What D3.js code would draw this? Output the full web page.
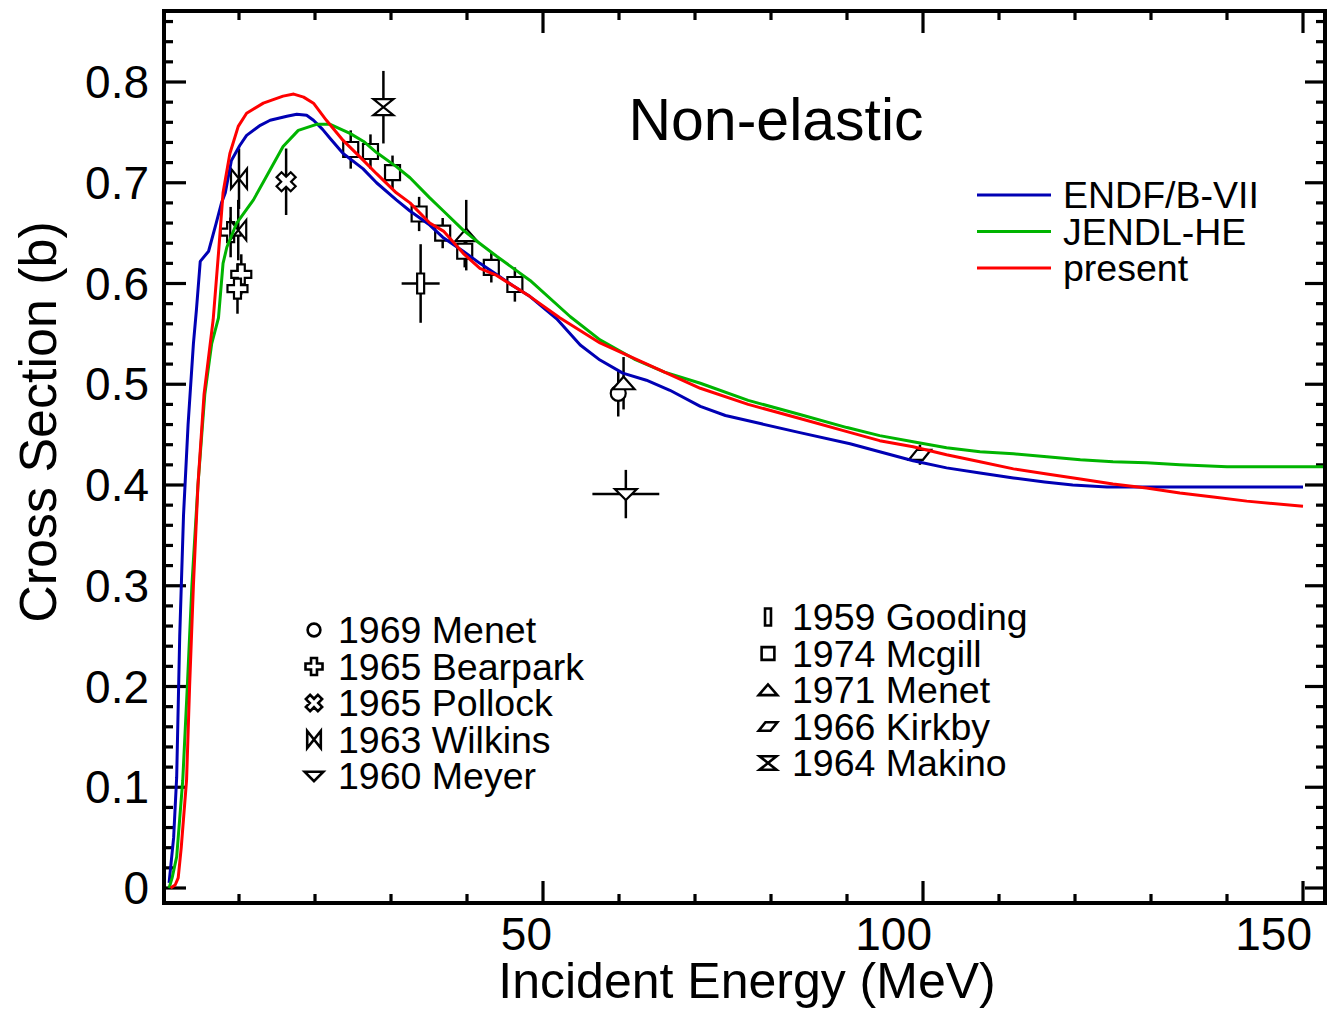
<!DOCTYPE html>
<html>
<head>
<meta charset="utf-8">
<script src="https://cdn.jsdelivr.net/npm/d3@7/dist/d3.min.js"></script>
<style>
  html, body { margin: 0; padding: 0; background: #fff; }
  svg { display: block; font-family: "Liberation Sans", Arial, Helvetica, sans-serif; }
</style>
</head>
<body>
<svg id="chart" width="1328" height="1010"></svg>
<script>
// ---------------- DATA ----------------
const xTickValues = [50, 100, 150];
const yTickValues = [0, 0.1, 0.2, 0.3, 0.4, 0.5, 0.6, 0.7, 0.8];
const yTickLabels = ["0", "0.1", "0.2", "0.3", "0.4", "0.5", "0.6", "0.7", "0.8"];

// evaluated curves: [energy MeV, cross section b]
const endfB7 = [[0.8,0.005],[1.4,0.05],[1.8,0.11],[2.2,0.25],[2.7,0.37],[3.3,0.46],[4.0,0.54],[4.4,0.574],[4.9,0.622],[6.0,0.632],[7.0,0.66],[7.7,0.68],[8.2,0.69],[9.0,0.722],[10.1,0.737],[11.0,0.747],[12.8,0.757],[14.1,0.762],[16.3,0.766],[17.6,0.768],[18.9,0.767],[19.8,0.762],[21.0,0.753],[22.0,0.744],[23.7,0.729],[26.3,0.714],[28.1,0.70],[30.7,0.683],[32.5,0.672],[35.1,0.658],[36.8,0.646],[39.5,0.632],[41.7,0.62],[43.9,0.609],[46.0,0.598],[48.3,0.587],[51.8,0.565],[54.9,0.539],[57.5,0.524],[60.5,0.511],[63.6,0.504],[66.7,0.494],[70.7,0.478],[74.0,0.469],[78.6,0.461],[83.8,0.452],[90.4,0.441],[94.3,0.433],[98.7,0.424],[103.1,0.417],[107.5,0.412],[111.9,0.407],[116.0,0.403],[119.7,0.400],[124.2,0.398],[150.0,0.398]];
const jendlHE = [[0.8,0.0],[1.2,0.01],[1.8,0.031],[2.6,0.107],[3.2,0.2],[3.8,0.3],[4.6,0.4],[5.5,0.49],[6.4,0.54],[7.3,0.566],[7.9,0.62],[8.4,0.636],[9.7,0.66],[11.9,0.683],[14.1,0.713],[15.8,0.736],[17.8,0.752],[20.2,0.758],[22.0,0.758],[24.6,0.749],[26.4,0.741],[28.1,0.73],[30.7,0.716],[32.5,0.705],[35.1,0.685],[36.9,0.672],[39.5,0.653],[41.3,0.642],[43.9,0.627],[48.3,0.603],[53.6,0.567],[57.5,0.544],[62.0,0.525],[66.0,0.512],[70.7,0.501],[77.0,0.484],[83.8,0.470],[90.0,0.457],[94.3,0.449],[98.7,0.443],[103.1,0.437],[107.5,0.433],[111.9,0.431],[116.3,0.428],[120.7,0.425],[125.0,0.423],[129.4,0.422],[133.8,0.420],[140.0,0.418],[153.0,0.418]];
const present = [[1.0,0.0],[1.6,0.003],[2.0,0.01],[2.4,0.04],[3.1,0.107],[3.5,0.2],[4.0,0.3],[4.6,0.4],[5.4,0.49],[6.6,0.564],[7.3,0.63],[7.9,0.69],[8.8,0.729],[9.9,0.756],[11.0,0.769],[13.2,0.779],[15.8,0.786],[17.2,0.788],[18.5,0.785],[19.8,0.779],[21.5,0.762],[23.7,0.742],[26.4,0.722],[28.1,0.709],[30.7,0.69],[32.5,0.68],[35.1,0.66],[36.9,0.652],[39.5,0.63],[41.7,0.615],[43.9,0.608],[48.3,0.587],[52.2,0.566],[57.5,0.541],[62.8,0.523],[70.7,0.496],[77.0,0.480],[83.8,0.466],[90.0,0.453],[94.3,0.444],[98.7,0.438],[103.1,0.430],[107.5,0.423],[111.9,0.416],[116.3,0.411],[120.7,0.406],[125.0,0.401],[129.4,0.397],[133.8,0.392],[138.2,0.388],[142.6,0.384],[150.0,0.379]];

// experimental data: [energy, xs, dxs, dE]
const menet1969   = [[59.9,0.491,0.023,0]];
const bearpark1965 = [[8.9,0.651,0.025,0],[10.3,0.609,0.02,0],[9.8,0.595,0.025,0]];
const pollock1965 = [[16.2,0.701,0.033,0]];
const wilkins1963 = [[10.0,0.704,0.03,0],[9.9,0.653,0.03,0]];
const meyer1960   = [[60.9,0.391,0.024,4.4]];
const gooding1959 = [[33.9,0.600,0.039,2.5]];
const mcgill1974  = [[24.7,0.733,0.019,0],[27.3,0.731,0.017,0],[30.2,0.710,0.017,0],[33.7,0.669,0.017,0],[36.8,0.650,0.015,0],[39.7,0.632,0.016,0],[43.2,0.616,0.015,0],[46.3,0.599,0.017,0]];
const menet1971   = [[39.9,0.648,0.035,0],[60.6,0.501,0.026,0]];
const kirkby1966  = [[99.6,0.430,0.01,0]];
const makino1964  = [[29.0,0.775,0.036,0]];

const curveNames = ["ENDF/B-VII", "JENDL-HE", "present"];
const curveColors = ["#0000b4", "#00b400", "#ff0000"];
const expNamesLeft = ["1969 Menet", "1965 Bearpark", "1965 Pollock", "1963 Wilkins", "1960 Meyer"];
const expNamesRight = ["1959 Gooding", "1974 Mcgill", "1971 Menet", "1966 Kirkby", "1964 Makino"];

// ---------------- LAYOUT ----------------
const svg = d3.select("#chart");
const L = 164, R = 1325, T = 11, B = 903;
const x = d3.scaleLinear().domain([0, 150]).range([163, 1303]);
const y = d3.scaleLinear().domain([0, 0.8]).range([888, 82]);
const xMin = x.invert(L), xMax = x.invert(R);
const yMin = y.invert(B), yMax = y.invert(T);

const g = svg.append("g");

// ticks
const xMajor = d3.range(0, 151, 50).filter(v => v >= xMin && v <= xMax);
const xMinor = d3.range(0, 153, 10).filter(v => v % 50 !== 0 && v > xMin && v < xMax);
const yMajor = yTickValues;
const yMinor = d3.range(0, 88).map(i => +(i * 0.02).toFixed(2)).filter(v => Math.abs(v*10 - Math.round(v*10)) > 1e-6 && v < yMax);

const tk = g.append("g").attr("stroke", "#000").attr("stroke-width", 3.2);
function vt(xv, y1, y2) { tk.append("line").attr("x1", x(xv)).attr("x2", x(xv)).attr("y1", y1).attr("y2", y2); }
function ht(yv, x1, x2) { tk.append("line").attr("y1", y(yv)).attr("y2", y(yv)).attr("x1", x1).attr("x2", x2); }
xMajor.filter(v => v > 0).forEach(v => { vt(v, B, B - 22); vt(v, T, T + 22); });
xMinor.forEach(v => { vt(v, B, B - 9); vt(v, T, T + 9); });
yMajor.forEach(v => { ht(v, L, L + 22); ht(v, R, R - 20); });
yMinor.forEach(v => { ht(v, L, L + 9); ht(v, R, R - 9); });

// tick labels
const lab = g.append("g").attr("font-size", 46).attr("fill", "#000");
xTickValues.forEach(v => lab.append("text").attr("x", x(v) + 9).attr("y", 950).attr("text-anchor", "end").text(v));
yTickValues.forEach((v, i) => lab.append("text").attr("x", 149).attr("y", y(v) + 16).attr("text-anchor", "end").text(yTickLabels[i]));

// axis titles
g.append("text").attr("x", 747).attr("y", 998).attr("text-anchor", "middle").attr("font-size", 50).text("Incident Energy (MeV)");
g.append("text").attr("transform", "translate(56,422) rotate(-90)").attr("text-anchor", "middle").attr("font-size", 52).text("Cross Section (b)");
g.append("text").attr("x", 776).attr("y", 140).attr("text-anchor", "middle").attr("font-size", 59).text("Non-elastic");

// ---------------- SYMBOLS ----------------
function symPath(type, s) {
  const p = d3.path();
  const poly = pts => { pts.forEach((q, i) => i ? p.lineTo(q[0]*s, q[1]*s) : p.moveTo(q[0]*s, q[1]*s)); p.closePath(); };
  switch (type) {
    case "circle": p.moveTo(7.5*s, 0); p.arc(0, 0, 7.5*s, 0, 2*Math.PI); break;
    case "plus": { const a = 3.5, b = 10; poly([[-a,-b],[a,-b],[a,-a],[b,-a],[b,a],[a,a],[a,b],[-a,b],[-a,a],[-b,a],[-b,-a],[-a,-a]]); break; }
    case "xcross": { const a = 3.5, b = 10, c = Math.SQRT1_2;
      const pts = [[-a,-b],[a,-b],[a,-a],[b,-a],[b,a],[a,a],[a,b],[-a,b],[-a,a],[-b,a],[-b,-a],[-a,-a]].map(q => [(q[0]-q[1])*c, (q[0]+q[1])*c]);
      poly(pts); break; }
    case "bowtie": poly([[-8,-10],[8,10],[8,-10],[-8,10]]); break;
    case "tridown": poly([[-11,-5],[11,-5],[0,6]]); break;
    case "rect": poly([[-3.5,-10],[3.5,-10],[3.5,10],[-3.5,10]]); break;
    case "square": poly([[-7.5,-7.5],[7.5,-7.5],[7.5,7.5],[-7.5,7.5]]); break;
    case "triup": poly([[-11,6],[11,6],[0,-6.5]]); break;
    case "para": poly([[-11,5],[-3,-5],[11,-5],[3,5]]); break;
    case "hourglass": poly([[-10,-8],[10,-8],[-10,8],[10,8]]); break;
  }
  return p.toString();
}

const expSets = [
  { data: menet1969, sym: "circle" },
  { data: bearpark1965, sym: "plus" },
  { data: pollock1965, sym: "xcross" },
  { data: wilkins1963, sym: "bowtie" },
  { data: meyer1960, sym: "tridown" },
  { data: gooding1959, sym: "rect" },
  { data: mcgill1974, sym: "square" },
  { data: menet1971, sym: "triup" },
  { data: kirkby1966, sym: "para" },
  { data: makino1964, sym: "hourglass" }
];

const plot = g.append("g");
const eb = plot.append("g").attr("stroke", "#000").attr("stroke-width", 2.5);
const sy = plot.append("g");
expSets.forEach(set => {
  set.data.forEach(d => {
    const [e, v, dv, de] = d;
    eb.append("line").attr("x1", x(e)).attr("x2", x(e)).attr("y1", y(v - dv)).attr("y2", y(v + dv));
    if (de > 0) eb.append("line").attr("y1", y(v)).attr("y2", y(v)).attr("x1", x(e - de)).attr("x2", x(e + de));
    sy.append("path").attr("d", symPath(set.sym, 1)).attr("transform", `translate(${x(e)},${y(v)})`)
      .attr("fill", "#fff").attr("stroke", "#000").attr("stroke-width", 2.2);
  });
});

// curves
const line = d3.line().x(d => x(d[0])).y(d => y(d[1]));
[endfB7, jendlHE, present].forEach((c, i) => {
  plot.append("path").datum(c).attr("d", line).attr("fill", "none")
    .attr("stroke", curveColors[i]).attr("stroke-width", 3).attr("stroke-linejoin", "round");
});

// frame
g.append("rect").attr("x", L).attr("y", T).attr("width", R - L).attr("height", B - T)
  .attr("fill", "none").attr("stroke", "#000").attr("stroke-width", 4);

// ---------------- LEGENDS ----------------
const lg = g.append("g");
curveNames.forEach((n, i) => {
  const yy = 195 + i * 36.5;
  lg.append("line").attr("x1", 977).attr("x2", 1051).attr("y1", yy).attr("y2", yy)
    .attr("stroke", curveColors[i]).attr("stroke-width", 3);
  lg.append("text").attr("x", 1063).attr("y", yy + 13).attr("font-size", 37.5).text(n);
});

const symsLeft = ["circle", "plus", "xcross", "bowtie", "tridown"];
const symsRight = ["rect", "square", "triup", "para", "hourglass"];
expNamesLeft.forEach((n, i) => {
  const yy = 630 + i * 36.5;
  lg.append("path").attr("d", symPath(symsLeft[i], 0.85)).attr("transform", `translate(314,${yy})`)
    .attr("fill", "#fff").attr("stroke", "#000").attr("stroke-width", 2.6);
  lg.append("text").attr("x", 338).attr("y", yy + 13).attr("font-size", 37.5).text(n);
});
expNamesRight.forEach((n, i) => {
  const yy = 617 + i * 36.5;
  lg.append("path").attr("d", symPath(symsRight[i], 0.85)).attr("transform", `translate(768,${yy})`)
    .attr("fill", "#fff").attr("stroke", "#000").attr("stroke-width", 2.6);
  lg.append("text").attr("x", 792).attr("y", yy + 13).attr("font-size", 37.5).text(n);
});
</script>
</body>
</html>
